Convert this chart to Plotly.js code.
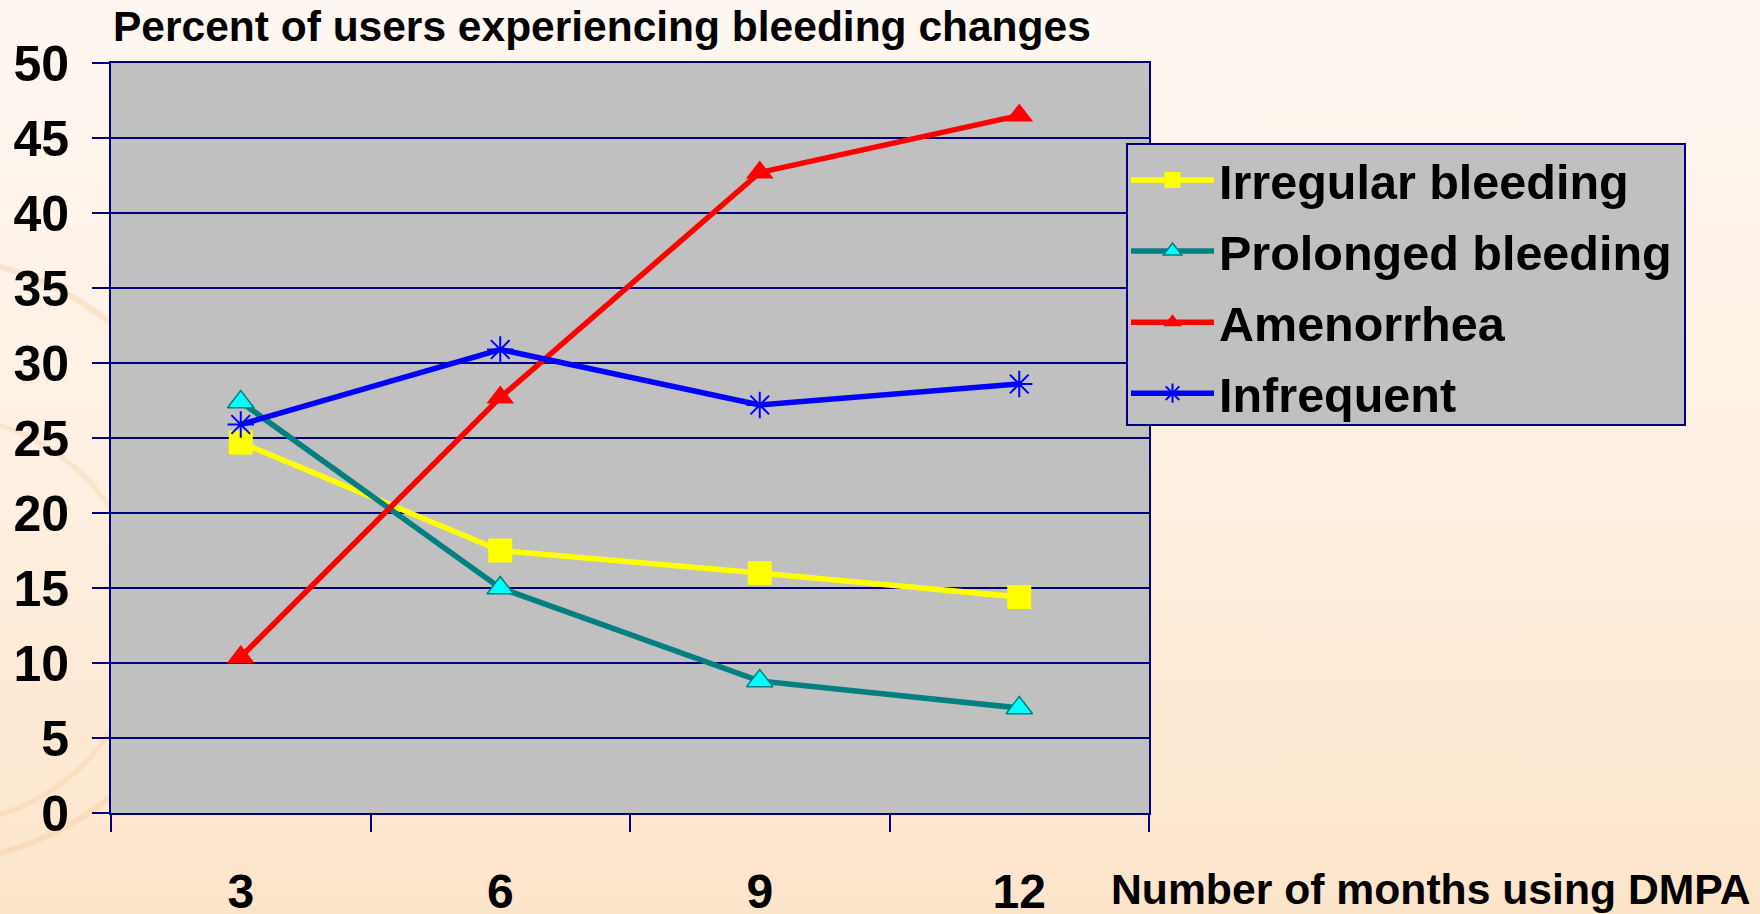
<!DOCTYPE html>
<html>
<head>
<meta charset="utf-8">
<script src="https://cdn.plot.ly/plotly-3.0.1.min.js"></script>
<style>
html,body{margin:0;padding:0;width:1760px;height:914px;overflow:hidden;}
body{background:
 radial-gradient(circle at -80px 560px, rgba(255,255,255,0) 0 300px, rgba(240,200,150,0.35) 302px 306px, rgba(255,255,255,0) 308px),
 radial-gradient(circle at -60px 620px, rgba(255,255,255,0) 0 200px, rgba(240,200,150,0.3) 202px 205px, rgba(255,255,255,0) 207px),
 linear-gradient(to bottom, #FEF7F1 0%, #FEF1E4 45%, #FDE5CB 100%);}
#chart{width:1760px;height:914px;}
</style>
</head>
<body>
<div id="chart"></div>
<script>
const months = ['3', '6', '9', '12'];
const irregular = [24.7, 17.5, 16.0, 14.4];
const prolonged = [27.4, 15.0, 8.8, 7.0];
const amenorrhea = [10.4, 27.7, 42.7, 46.5];
const infrequent = [25.9, 30.9, 27.2, 28.6];
const seriesNames = ['Irregular bleeding', 'Prolonged bleeding', 'Amenorrhea', 'Infrequent'];
const yTicks = [0,5,10,15,20,25,30,35,40,45,50];

const FONT = 'Liberation Sans, Arial, sans-serif';
const NAVY = '#000080';

// plot area in pixels: x 111..1149, y 63..813
const PX = v => (v - 111) / 1038;
const PY = v => (813 - v) / 750;

const traces = [
  {x: months, y: irregular, name: seriesNames[0], legendgroup: 'a', type: 'scatter', mode: 'lines+markers',
   line: {color: '#FFFF00', width: 5.5},
   marker: {symbol: 'square', size: 24, color: '#FFFF00', line: {color: '#FFFF00', width: 0}}},
  {x: months, y: prolonged, name: seriesNames[1], legendgroup: 'b', type: 'scatter', mode: 'lines+markers',
   line: {color: '#008080', width: 5.5},
   marker: {symbol: 'triangle-up', size: 23, color: '#00FFFF', line: {color: '#008080', width: 1.5}}},
  {x: months, y: amenorrhea, name: seriesNames[2], legendgroup: 'c', type: 'scatter', mode: 'lines+markers',
   line: {color: '#FF0000', width: 5.5},
   marker: {symbol: 'triangle-up', size: 24, color: '#FF0000', line: {color: '#FF0000', width: 0}}},
  {x: months, y: infrequent, name: seriesNames[3], legendgroup: 'd', type: 'scatter', mode: 'lines+markers',
   line: {color: '#0000FF', width: 5.5},
   marker: {symbol: 'asterisk-open', size: 22, color: '#0000FF', line: {color: '#0000FF', width: 2}}}
];

const layout = {
  width: 1760, height: 914,
  margin: {l: 111, r: 611, t: 63, b: 101, pad: 0},
  paper_bgcolor: 'rgba(0,0,0,0)',
  plot_bgcolor: '#C0C0C0',
  font: {family: FONT, color: '#000000', weight: 'bold'},
  showlegend: true,
  title: {
    text: 'Percent of users experiencing bleeding changes',
    x: 113/1760, xanchor: 'left', xref: 'container',
    y: 1 - 26/914, yanchor: 'middle', yref: 'container',
    font: {family: FONT, size: 42.5, color: '#000', weight: 'bold'}
  },
  xaxis: {
    type: 'category', categoryorder: 'array', categoryarray: months,
    range: [-0.5, 3.5], tickson: 'boundaries',
    ticks: 'outside', ticklen: 17, tickwidth: 2, tickcolor: NAVY,
    showline: true, linecolor: NAVY, linewidth: 2, mirror: true,
    showgrid: false, zeroline: false,
    tickfont: {family: FONT, size: 48, color: '#000', weight: 'bold'},
    ticklabelstandoff: 35
  },
  yaxis: {
    range: [0, 50], tickmode: 'array', tickvals: yTicks, ticktext: yTicks.map(String),
    ticks: 'outside', ticklen: 17, tickwidth: 2, tickcolor: NAVY,
    showline: true, linecolor: NAVY, linewidth: 2, mirror: true,
    showgrid: true, gridcolor: NAVY, gridwidth: 2.2, zeroline: false,
    tickfont: {family: FONT, size: 50, color: '#000', weight: 'bold'},
    ticklabelstandoff: 13
  },
  legend: {
    x: PX(1126), xanchor: 'left', xref: 'paper',
    y: PY(142), yanchor: 'top', yref: 'paper',
    bgcolor: 'rgba(0,0,0,0)', borderwidth: 0,
    font: {family: FONT, size: 48.5, color: '#000', weight: 'bold'},
    itemwidth: 83, traceorder: 'grouped', tracegroupgap: 5
  },
  shapes: [{
    type: 'rect', xref: 'paper', yref: 'paper', layer: 'above',
    x0: PX(1127), x1: PX(1685), y0: PY(144), y1: PY(425),
    fillcolor: '#C0C0C0', line: {color: NAVY, width: 2}
  }],
  annotations: [{
    text: 'Number of months using DMPA', showarrow: false,
    xref: 'paper', yref: 'paper', x: PX(1109), y: PY(889),
    xanchor: 'left', yanchor: 'middle',
    font: {family: FONT, size: 42.7, color: '#000', weight: 'bold'}
  }]
};

Plotly.newPlot('chart', traces, layout, {displayModeBar: false, staticPlot: true});
</script>
</body>
</html>
